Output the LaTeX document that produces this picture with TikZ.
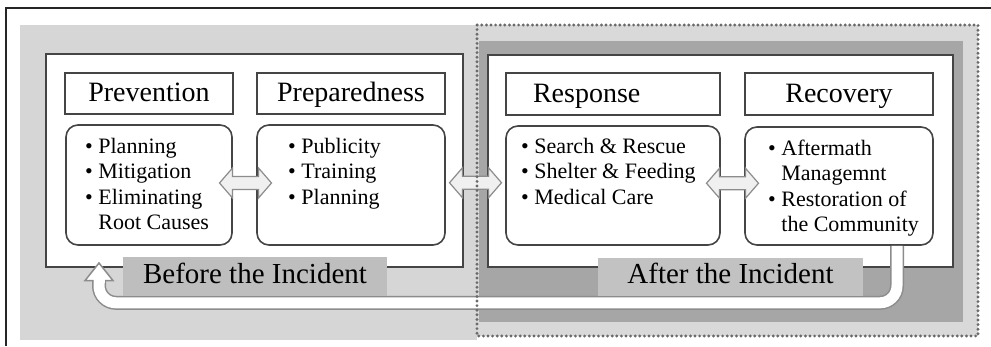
\documentclass[tikz,border=0pt]{standalone}
\usepackage{fontspec}
\setmainfont{Liberation Serif}
\usetikzlibrary{calc}

\definecolor{regionlight}{HTML}{D6D6D6}
\definecolor{bandlight}{HTML}{D9D9D9}
\definecolor{regiondark}{HTML}{A6A6A6}
\definecolor{tagbefore}{HTML}{BEBEBE}
\definecolor{tagafter}{HTML}{C2C2C2}
\definecolor{edge}{HTML}{454545}
\definecolor{dots}{HTML}{6A6A6A}
\definecolor{arrowedge}{HTML}{8C8C8C}

\tikzset{
  panel/.style={draw=edge, line width=2pt, fill=white, inner sep=0pt},
  titlebox/.style={draw=edge, line width=2pt, fill=white, inner sep=0pt,
    font=\fontsize{28}{30}\selectfont, text height=20pt, text depth=4pt},
  listbox/.style={draw=edge, line width=1.6pt, fill=white, rounded corners=12pt, inner sep=0pt},
  listtext/.style={font=\fontsize{22}{25.3}\selectfont, align=left, anchor=north west, inner sep=0pt},
  tagbox/.style={inner sep=0pt, font=\fontsize{29}{31}\selectfont, text height=19pt, text depth=6pt},
  dblarrow/.style={fill=white!94!black, draw=arrowedge, line width=1.2pt, line join=miter},
  dotborder/.style={draw=dots, line width=3.2pt, line cap=round, dash pattern=on 0pt off 4.6pt},
}

% two-headed arrow centred on a named coordinate
\newcommand\dblarr[1]{%
  \draw[dblarrow] ($(#1)+(-26,0)$) -- ++(13,-15) -- ++(0,8.5) -- ++(26,0) -- ++(0,-8.5)
    -- ++(13,15) -- ++(-13,15) -- ++(0,-8.5) -- ++(-26,0) -- ++(0,8.5) -- cycle;}

\begin{document}
\begin{tikzpicture}[x=1pt,y=-1pt]
\useasboundingbox (0,0) rectangle (991,346);

% page frame
\draw[line width=1.8pt, black!85] (6,346) -- (6,8) -- (991,8);

% background regions
\fill[regionlight] (20,25) rectangle (477,340);
\fill[bandlight] (477,25) rectangle (978,336);
\fill[regiondark] (479,41) rectangle (963,322);

% phase panels
\node[panel, minimum width=417pt, minimum height=213pt] (before) at (254.5,160.5) {};
\node[panel, minimum width=465pt, minimum height=212pt] (after) at (720.5,161) {};

% phase titles
\node[titlebox, minimum width=168pt, minimum height=41pt] (prevtitle) at (149,93.5) {Prevention};
\node[titlebox, minimum width=188pt, minimum height=41pt] (preptitle) at (351,93.5) {Preparedness};
\node[titlebox, minimum width=214pt, minimum height=42pt, text width=160pt, align=left] (resptitle) at (613,94) {Response};
\node[titlebox, minimum width=188pt, minimum height=42pt] (rcvtitle) at (839,94) {Recovery};

% activity boxes
\node[listbox, minimum width=166pt, minimum height=120pt] (prevbody) at (149,185) {};
\node[listbox, minimum width=188pt, minimum height=120pt] (prepbody) at (351,185) {};
\node[listbox, minimum width=214pt, minimum height=119pt] (respbody) at (613,185.5) {};
\node[listbox, minimum width=188pt, minimum height=118pt] (rcvbody) at (839,186) {};

\node[listtext] (prevtext) at (85,138) {• Planning\\• Mitigation\\• Eliminating\\\phantom{• }Root Causes};
\node[listtext] (preptext) at (288,138) {• Publicity\\• Training\\• Planning};
\node[listtext] (resptext) at (521,138) {• Search \& Rescue\\• Shelter \& Feeding\\• Medical Care};
\node[listtext] (rcvtext) at (768,140) {• Aftermath\\\phantom{• }Managemnt\\• Restoration of\\\phantom{• }the Community};

% return loop from recovery back to prevention
\coordinate (retstart) at ($(rcvbody.south)+(58,0)$);
\coordinate (retbase) at (99,280);
\coordinate (rettip) at (99,263);
\draw[arrowedge, line width=14pt, rounded corners=17pt] (retstart) -- ++(0,57) -| (retbase);
\draw[white, line width=11pt, rounded corners=17pt] (retstart) -- ++(0,57) -| (retbase);
\draw[arrowedge, line width=1.5pt, fill=white, line join=miter]
  ($(retbase)+(-5.5,0.6)$) -- ($(retbase)+(-14,0.6)$) -- (rettip) -- ($(retbase)+(14,0.6)$) -- ($(retbase)+(5.5,0.6)$);
\fill[white] ($(retbase)+(-5.5,-1)$) rectangle ($(retbase)+(5.5,2.5)$);

% phase labels
\node[tagbox, fill=tagbefore, minimum width=264pt, minimum height=39pt] (beforetag) at (255,276.5) {Before the Incident};
\node[tagbox, fill=tagafter, minimum width=265pt, minimum height=38pt] (aftertag) at (730.5,277) {After the Incident};

% links between neighbouring phases
\coordinate (lnk1) at ($(prevbody.east)!0.5!(prepbody.west)+(1,-2)$);
\coordinate (lnk2) at ($(before.east)!0.5!(after.west)+(0,22)$);
\coordinate (lnk3) at ($(respbody.east)!0.5!(rcvbody.west)+(0,-2.5)$);
\dblarr{lnk1}
\dblarr{lnk2}
\dblarr{lnk3}

% dotted boundary of the post-incident phase
\draw[dotborder] (477,25) rectangle (978,336);
\end{tikzpicture}
\end{document}
